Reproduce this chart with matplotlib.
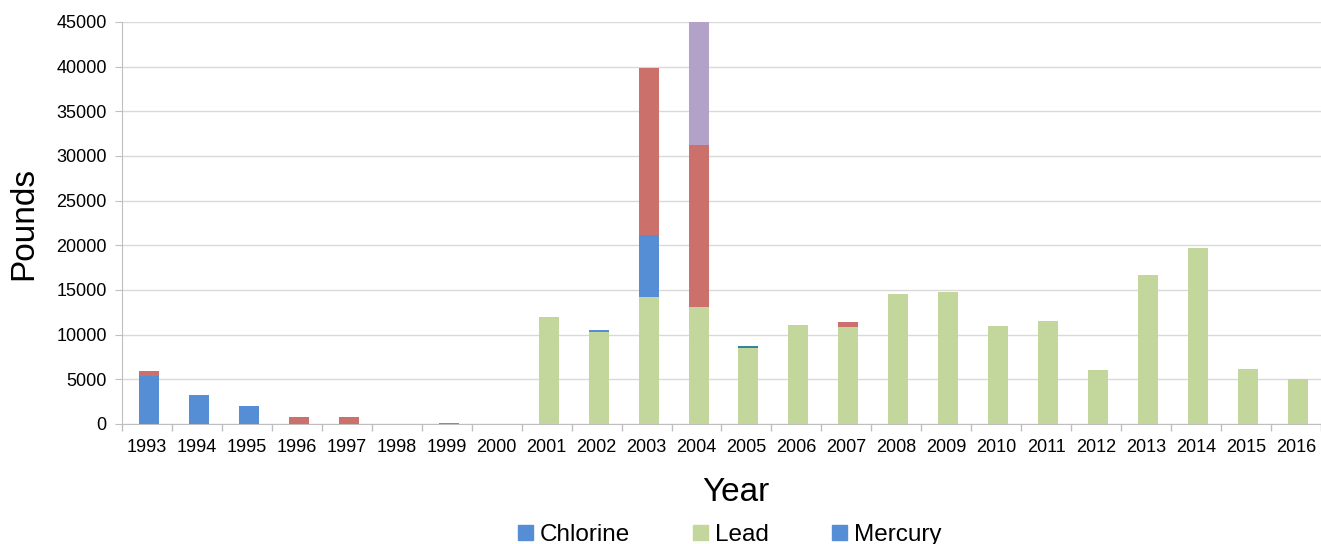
import matplotlib
matplotlib.use("Agg")
import matplotlib.pyplot as plt
from matplotlib.patches import Patch
import numpy as np

plt.rcParams["font.family"] = ["Liberation Sans", "DejaVu Sans"]

years = [str(y) for y in range(1993, 2017)]

# pounds per year; stacked bottom to top
chlorine = [5400, 3200, 2000, 0, 0, 0, 0, 50, 0, 0, 0, 0,
            0, 0, 0, 0, 0, 0, 0, 0, 0, 0, 0, 0]
lead = [0, 0, 0, 0, 0, 0, 0, 0, 12000, 10300, 14250, 13100,
        8500, 11080, 10890, 14550, 14780, 10970, 11530, 6050, 16680, 19700, 6160, 5040]
mercury = [0, 0, 0, 0, 0, 0, 0, 0, 0, 200, 6900, 0,
           0, 0, 0, 0, 0, 0, 0, 0, 0, 0, 0, 0]
series_red = [500, 0, 0, 750, 750, 0, 120, 0, 0, 0, 18700, 18100,
              0, 0, 530, 0, 0, 0, 0, 0, 0, 0, 0, 0]
series_purple = [0, 0, 0, 0, 0, 0, 0, 0, 0, 0, 0, 14500,
                 0, 0, 0, 0, 0, 0, 0, 0, 0, 0, 0, 0]
series_teal = [0, 0, 0, 0, 0, 0, 0, 0, 0, 0, 0, 0,
               230, 0, 0, 0, 0, 0, 0, 0, 0, 0, 0, 0]

stack = [
    ("Chlorine", chlorine, "#558ED5"),
    ("Lead", lead, "#C3D69B"),
    ("Mercury", mercury, "#558ED5"),
    ("red", series_red, "#CC706C"),
    ("purple", series_purple, "#B3A2C7"),
    ("teal", series_teal, "#31859C"),
]

fig = plt.figure(figsize=(13.21, 5.44), dpi=100)
ax = fig.add_axes([122 / 1321, 1 - 424 / 544, 1 - 122 / 1321, (424 - 22) / 544])

x = np.arange(len(years))
bottom = np.zeros(len(years))
for name, vals, col in stack:
    vals = np.array(vals, dtype=float)
    ax.bar(x + 0.04, vals, 0.4, bottom=bottom, color=col, edgecolor="none", zorder=3)
    bottom += vals

ax.set_xlim(-0.5, len(years) - 0.5)
ax.set_ylim(0, 45000)
ax.set_yticks(np.arange(0, 45001, 5000))
ax.set_xticks(x)
ax.set_xticklabels(years)
ax.set_xticks(np.arange(-0.5, len(years), 1.0), minor=True)
ax.tick_params(axis="x", which="major", length=0, labelsize=13, pad=11)
ax.tick_params(axis="x", which="minor", length=5, color="#BFBFBF", width=1)
ax.tick_params(axis="y", length=5, color="#BFBFBF", labelsize=13, pad=6)

ax.grid(axis="y", color="#D9D9D9", linewidth=1, zorder=0)
for s in ["top", "right"]:
    ax.spines[s].set_visible(False)
ax.spines["left"].set_color("#BFBFBF")
ax.spines["bottom"].set_color("#BFBFBF")

ax.set_ylabel("Pounds", fontsize=24, labelpad=12)
ax.set_xlabel("Year", fontsize=24)
ax.xaxis.set_label_coords(0.512, -0.133)

handles = [Patch(color=c, label=n) for n, _, c in stack[:3]]
fig.legend(handles=handles, loc="center", bbox_to_anchor=(730 / 1321, 1 - 535 / 544),
           ncol=3, frameon=False, fontsize=17.5, handlelength=0.6, handleheight=0.6,
           handletextpad=0.3, columnspacing=2.6)

fig.savefig("out.png", dpi=100)
